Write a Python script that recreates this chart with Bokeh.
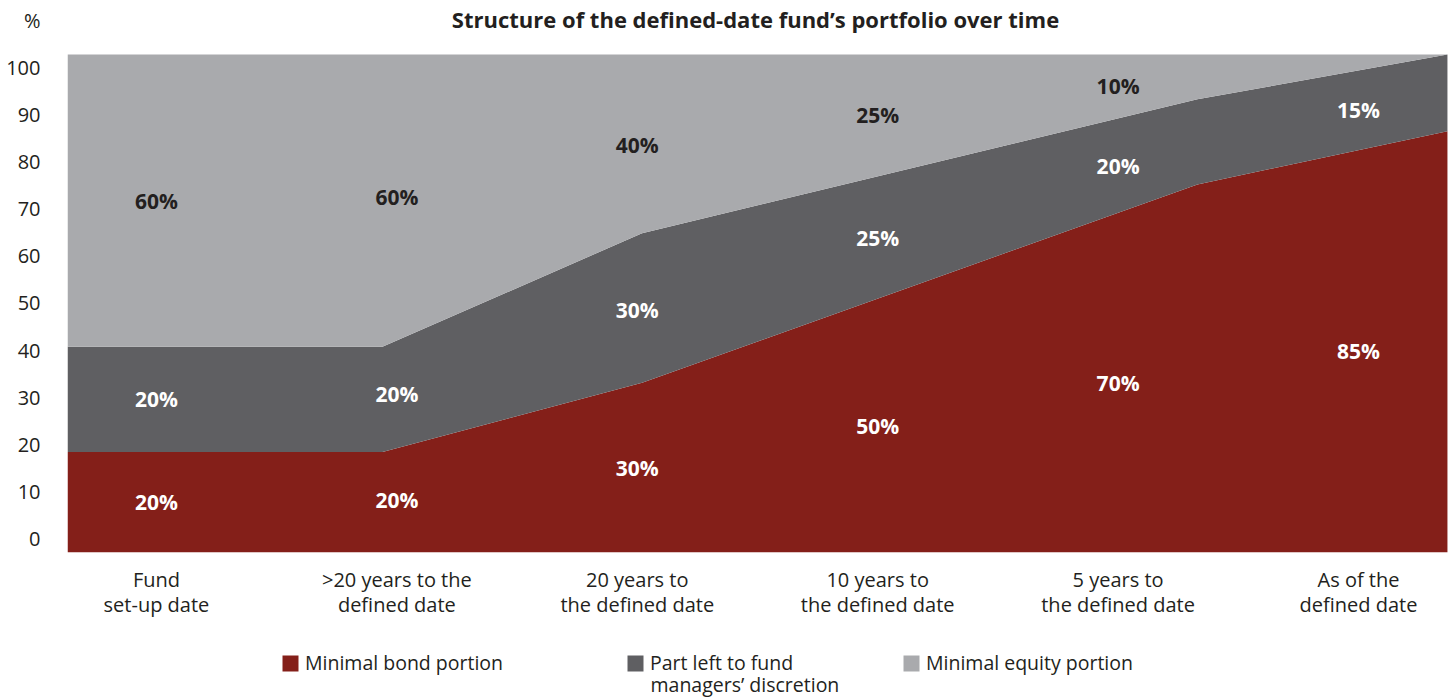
import numpy as np
from bokeh.plotting import figure
from bokeh.layouts import column
from bokeh.models import (Range1d, FixedTicker, Legend, LegendItem, Label,
                          LinearAxis, ColumnDataSource)
from bokeh.embed import file_html
from bokeh.resources import INLINE
from bokeh.core.properties import value

# ---------------- data ----------------
categories = ["Fund\nset-up date", ">20 years to the\ndefined date",
              "20 years to\nthe defined date", "10 years to\nthe defined date",
              "5 years to\nthe defined date", "As of the\ndefined date"]
bond_share = [20, 20, 30, 50, 70, 85]
discretion_share = [20, 20, 30, 25, 20, 15]
equity_share = [60, 60, 40, 25, 10, 0]

# band boundaries as drawn (x in category-index units)
edge_x = [-0.37, 0.94, 2.02, 4.33, 5.37]
bond_top = [20.2, 20.2, 34.1, 73.9, 84.6]
discretion_top = [41.3, 41.3, 64.1, 91.0, 100.0]
equity_top = [100.0, 100.0, 100.0, 100.0, 100.0]

y_ticks = [0, 10, 20, 30, 40, 50, 60, 70, 80, 90, 100]
unit_label = "%"
series_names = ["Minimal bond portion", "Part left to fund\nmanagers\u2019 discretion",
                "Minimal equity portion"]
title_text = "Structure of the defined-date fund\u2019s portfolio over time"

# ---------------- style ----------------
RED = "#841F19"
DARK = "#5F5F62"
LIGHT = "#A9AAAD"
COLORS = [RED, DARK, LIGHT]
TXT = "#231F20"
FONT = "Open Sans"

W = 1452
H1, H2 = 630, 69
BL, BB = 67, 78
FW, FH = W - BL, H1 - BB

p = figure(width=W, height=H1, x_range=Range1d(-0.370, 5.391), y_range=Range1d(0, 110.84),
           output_backend="svg", toolbar_location=None, y_axis_location=None, title=None,
           min_border_left=BL, min_border_right=0, min_border_top=0, min_border_bottom=BB)
p.grid.visible = False
p.outline_line_color = None
p.background_fill_color = "white"

# areas
src = ColumnDataSource(dict(x=edge_x, zero=[0] * len(edge_x), bond=bond_top,
                            disc=discretion_top, eq=equity_top))
r_bond = p.varea(x="x", y1="zero", y2="bond", source=src, fill_color=RED)
r_disc = p.varea(x="x", y1="bond", y2="disc", source=src, fill_color=DARK)
r_eq = p.varea(x="x", y1="disc", y2="eq", source=src, fill_color=LIGHT)

# value labels at band midpoints
cx = np.arange(len(categories), dtype=float)
b_at = np.interp(cx, edge_x, bond_top)
d_at = np.interp(cx, edge_x, discretion_top)
e_at = np.interp(cx, edge_x, equity_top)

lab_x, lab_y, lab_t, lab_c = [], [], [], []
for i in range(len(categories)):
    for share, lo, hi, col in ((bond_share[i], 0.0, b_at[i], "white"),
                               (discretion_share[i], b_at[i], d_at[i], "white"),
                               (equity_share[i], d_at[i], e_at[i], TXT)):
        if share > 0:
            lab_x.append(cx[i]); lab_y.append((lo + hi) / 2)
            lab_t.append(f"{share}%"); lab_c.append(col)
p.text(x=lab_x, y=lab_y, text=lab_t, text_color=lab_c, text_font=value(FONT),
       text_font_style="bold", text_font_size="21px", text_align="center",
       text_baseline="middle")

# title (inside the top of the frame)
p.add_layout(Label(x=688, y=FH - 18, x_units="screen", y_units="screen", text=title_text,
                   text_align="center", text_baseline="middle", text_font=FONT,
                   text_font_style="bold", text_font_size="22px", text_color=TXT))

# x axis
ax = p.xaxis[0]
ax.ticker = FixedTicker(ticks=list(range(len(categories))))
ax.major_label_overrides = {i: c for i, c in enumerate(categories)}
ax.axis_line_color = None
ax.major_tick_line_color = None
ax.minor_tick_line_color = None
ax.major_tick_out = 0
ax.major_tick_in = 0
ax.major_label_standoff = 13
ax.major_label_text_font = FONT
ax.major_label_text_font_size = "20px"
ax.major_label_text_color = TXT
ax.major_label_text_line_height = 0.94

# y axis on its own label scale (0 -> y 538, 100 -> y 67, unit mark above)
p.extra_y_ranges = {"lab": Range1d(-2.97, 114.2)}
yax = LinearAxis(y_range_name="lab", ticker=FixedTicker(ticks=y_ticks + [110]),
                 major_label_overrides={110: unit_label})
yax.axis_line_color = None
yax.major_tick_line_color = None
yax.minor_tick_line_color = None
yax.major_tick_out = 0
yax.major_tick_in = 0
yax.major_label_standoff = 27
yax.major_label_text_font = FONT
yax.major_label_text_font_size = "20px"
yax.major_label_text_color = TXT
p.add_layout(yax, "left")

# legend strip (three independently placed legends)
p2 = figure(width=W, height=H2, x_range=Range1d(0, 1), y_range=Range1d(0, 1),
            output_backend="svg", toolbar_location=None, title=None,
            x_axis_location=None, y_axis_location=None,
            min_border_left=0, min_border_right=0, min_border_top=0, min_border_bottom=0)
p2.grid.visible = False
p2.outline_line_color = None
leg_r = [p2.varea(x=[5, 6], y1=[5, 5], y2=[5, 5], fill_color=c) for c in COLORS]
leg_x = [213, 558, 834]
GLYPH, STANDOFF = 20, 5
for n, r, lx in zip(series_names, leg_r, leg_x):
    first, *rest = n.split("\n")
    p2.add_layout(Legend(items=[LegendItem(label=first, renderers=[r])], location=(lx, 23),
                         orientation="horizontal", border_line_color=None,
                         background_fill_alpha=0, glyph_width=GLYPH, glyph_height=GLYPH,
                         label_standoff=STANDOFF, padding=0, margin=0, spacing=0,
                         label_text_font=FONT, label_text_font_size="19.5px",
                         label_text_color=TXT, label_text_line_height=0.94))
    for k, line in enumerate(rest):
        p2.add_layout(Label(x=lx + GLYPH + STANDOFF, y=15 - 24 * k, x_units="screen",
                            y_units="screen", text=line, text_align="left",
                            text_baseline="middle", text_font=FONT,
                            text_font_size="19.5px", text_color=TXT))

open("out.html", "w").write(file_html(column(p, p2, spacing=0), INLINE))
